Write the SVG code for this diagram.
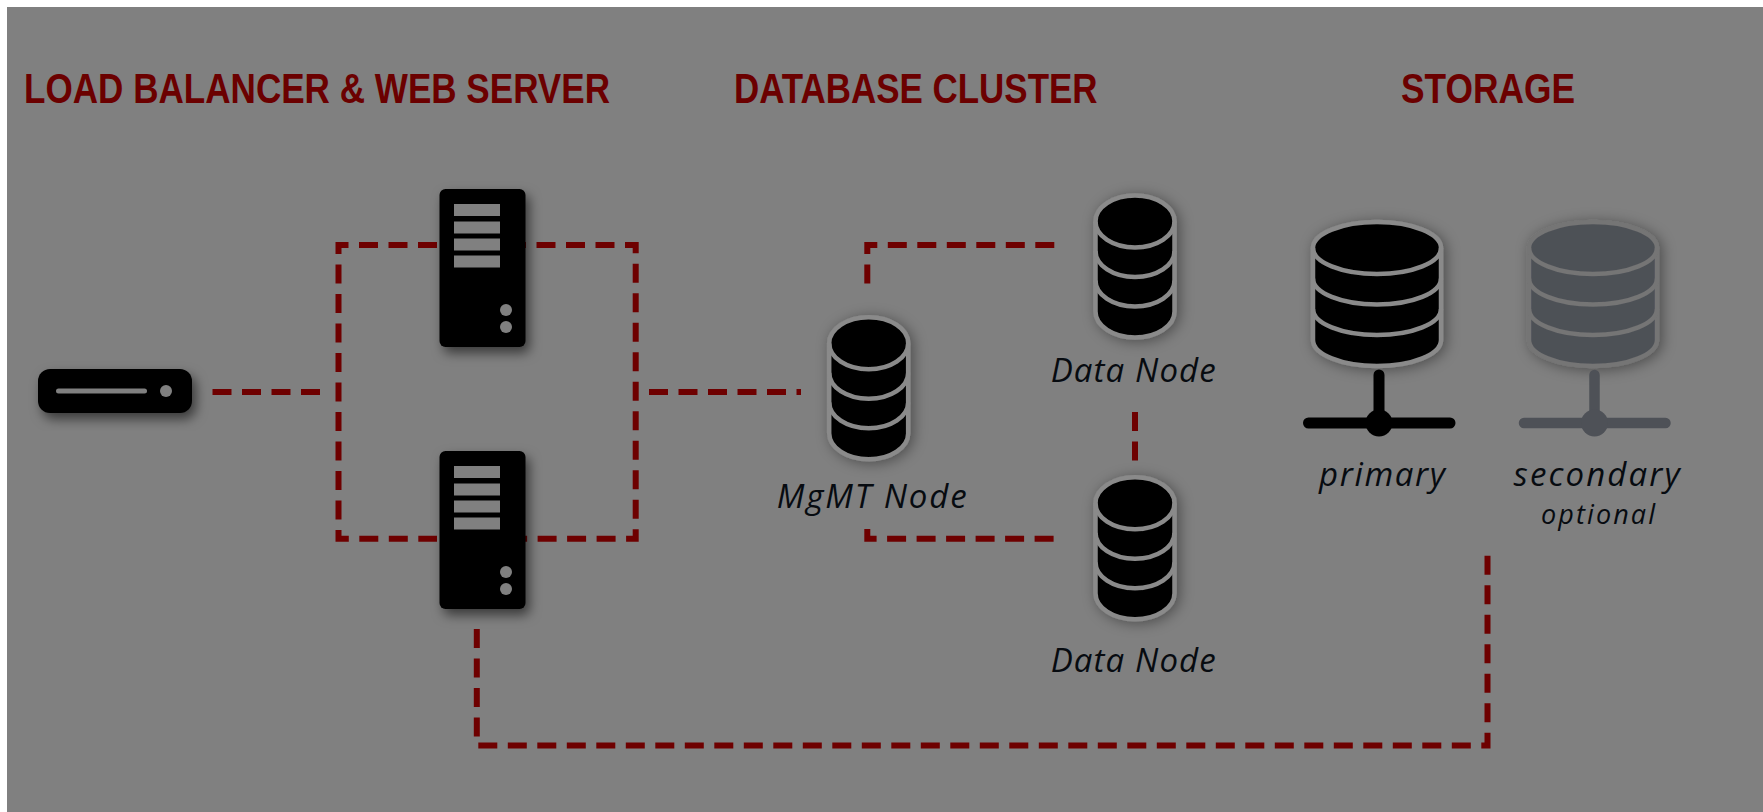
<svg xmlns="http://www.w3.org/2000/svg" width="1763" height="812" viewBox="0 0 1763 812">
<style>
.head{font-family:"Liberation Sans Narrow","Liberation Sans",sans-serif;font-weight:700;font-size:43px;fill:#6b0000}
.lbl{font-family:"Open Sans","Noto Sans",sans-serif;font-style:italic;font-size:33px;fill:#070b10}
.dash{fill:none;stroke:#6e0000;stroke-width:6;stroke-dasharray:19 10.5}
.s{fill:#000}
.g{fill:#808080}
.cy{fill:#000;stroke:#8a8a8a;stroke-width:4.5}
.cs{fill:#4e5157;stroke:#747474;stroke-width:4.5}
.l{fill:none;stroke:inherit}
</style>
<defs>
<filter id="sh" x="-40%" y="-40%" width="180%" height="180%"><feDropShadow dx="4" dy="6" stdDeviation="6" flood-color="#000" flood-opacity=".55"/></filter>
<filter id="glow" x="-40%" y="-40%" width="180%" height="180%"><feDropShadow dx="3" dy="2" stdDeviation="7" flood-color="#000" flood-opacity=".4"/></filter>
<g id="server">
<rect class="s" width="86" height="158" rx="6"/>
<rect class="g" x="14.5" y="15" width="46" height="12"/>
<rect class="g" x="14.5" y="32.5" width="46" height="12"/>
<rect class="g" x="14.5" y="49.5" width="46" height="12"/>
<rect class="g" x="14.5" y="66.5" width="46" height="12"/>
<circle class="g" cx="66.5" cy="121" r="6"/>
<circle class="g" cx="66.5" cy="138" r="6"/>
</g>
<g id="cyl">
<path d="M-39.5 0A39.5 26 0 0 1 39.5 0V90A39.5 26 0 0 1-39.5 90Z"/>
<path fill="none" d="M-39.5 0A39.5 26 0 0 0 39.5 0M-39.5 29.5A39.5 26 0 0 0 39.5 29.5M-39.5 59A39.5 26 0 0 0 39.5 59"/>
</g>
<g id="cylb">
<path d="M-64 0A64 26 0 0 1 64 0V92A64 26 0 0 1-64 92Z"/>
<path fill="none" d="M-64 0A64 26 0 0 0 64 0M-64 30.5A64 26 0 0 0 64 30.5M-64 61A64 26 0 0 0 64 61"/>
</g>
</defs>
<rect width="1763" height="812" fill="#fff"/>
<rect x="7" y="7" width="1756" height="805" fill="#808080"/>
<g id="connectors">
<path class="dash" d="M437 245H338.5V538.7H437"/>
<path class="dash" d="M507 245H635.7V538.7H507"/>
<path class="dash" d="M212.5 392H320"/>
<path class="dash" d="M649 392H801"/>
<path class="dash" d="M867.3 283.5V245H1055"/>
<path class="dash" d="M867.3 529V538.7H1055"/>
<path class="dash" d="M1135 412V461"/>
<path class="dash" d="M476.8 629V745.5H1487.5V549"/>
</g>
<g id="headings">
<text class="head" x="24" y="103" textLength="586" lengthAdjust="spacingAndGlyphs">LOAD BALANCER &amp; WEB SERVER</text>
<text class="head" x="734" y="103" textLength="363.500" lengthAdjust="spacingAndGlyphs">DATABASE CLUSTER</text>
<text class="head" x="1401" y="103" textLength="174" lengthAdjust="spacingAndGlyphs">STORAGE</text>
</g>
<g id="load-balancer" filter="url(#sh)">
<rect class="s" x="38" y="369" width="154" height="44" rx="12"/>
<rect class="g" x="56" y="388.500" width="91" height="5" rx="2.500"/>
<circle class="g" cx="166" cy="391" r="6"/>
</g>
<g id="web-server-1" filter="url(#sh)"><use href="#server" x="439.500" y="189"/></g>
<g id="web-server-2" filter="url(#sh)"><use href="#server" x="439.500" y="451"/></g>
<g id="mgmt-node">
<use class="cy" href="#cyl" x="868.700" y="343.200" filter="url(#glow)"/>
<text class="lbl" x="776.700" y="508.300" textLength="190">MgMT Node</text>
</g>
<g id="data-node-1">
<use class="cy" href="#cyl" x="1135" y="221.500" filter="url(#glow)"/>
<text class="lbl" x="1050.700" y="381.700" textLength="165">Data Node</text>
</g>
<g id="data-node-2">
<use class="cy" href="#cyl" x="1135" y="503.200" filter="url(#glow)"/>
<text class="lbl" x="1050.700" y="672.300" textLength="165">Data Node</text>
</g>
<g id="storage-primary">
<use class="cy" href="#cylb" x="1377" y="248" filter="url(#glow)"/>
<path d="M1379 375V423M1308.500 423H1450" fill="none" stroke="#000" stroke-width="11" stroke-linecap="round"/>
<circle class="s" cx="1379" cy="423" r="13.500"/>
<text class="lbl" x="1319" y="486" textLength="126">primary</text>
</g>
<g id="storage-secondary">
<use class="cs" href="#cylb" x="1593" y="248" filter="url(#glow)"/>
<path d="M1594.500 375V423M1524 423H1665.500" fill="none" stroke="#4e5157" stroke-width="10.500" stroke-linecap="round"/>
<circle cx="1594.500" cy="423" r="13.500" fill="#4e5157"/>
<text class="lbl" x="1513.600" y="486" textLength="166">secondary</text>
<text class="lbl" x="1541" y="524" textLength="114" style="font-size:27px">optional</text>
</g>
</svg>
